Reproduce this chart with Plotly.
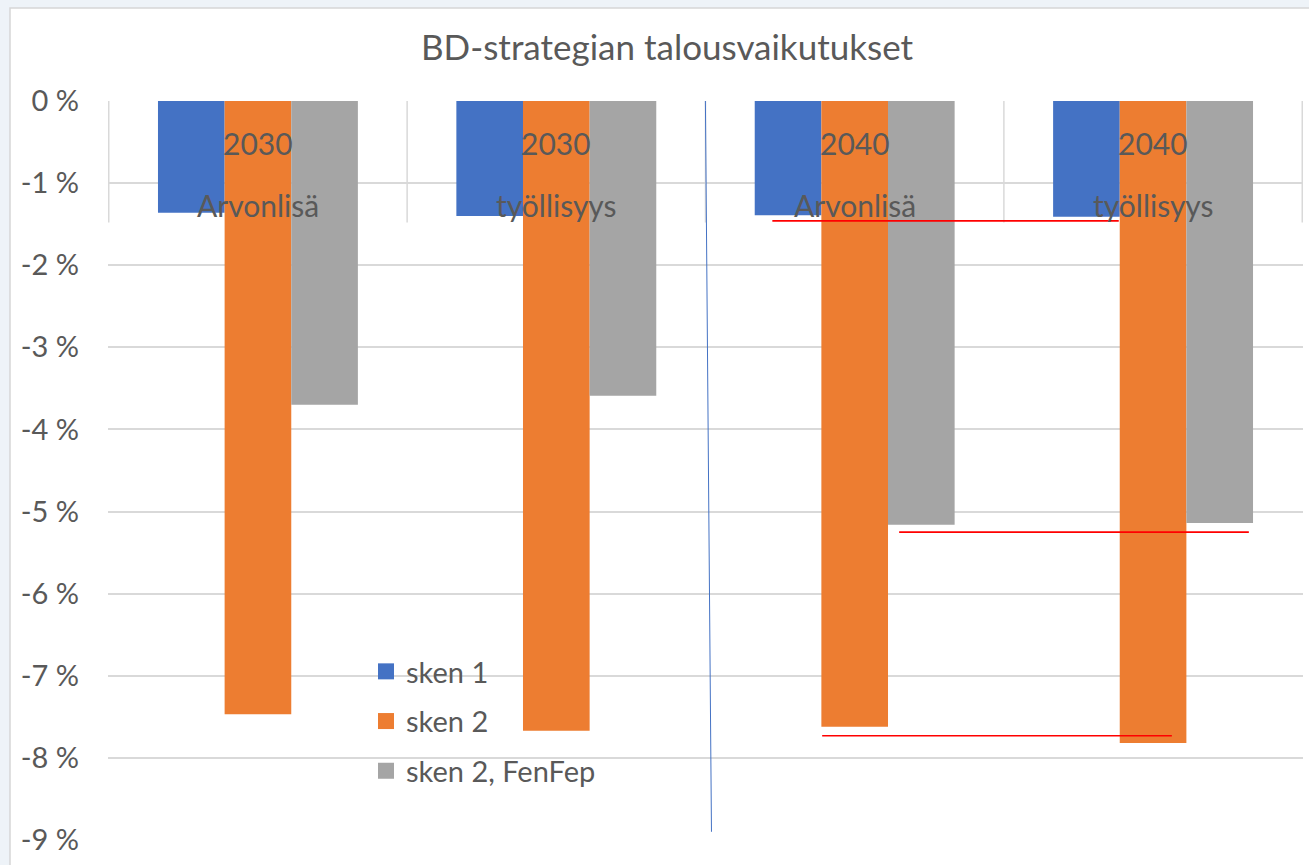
import plotly.graph_objects as go

categories = ["2030 Arvonlisä", "2030 työllisyys", "2040 Arvonlisä", "2040 työllisyys"]
cat_year = ["2030", "2030", "2040", "2040"]
cat_word = ["Arvonlisä", "työllisyys", "Arvonlisä", "työllisyys"]
series_names = ["sken 1", "sken 2", "sken 2, FenFep"]
sken1 = [-1.36, -1.40, -1.39, -1.41]
sken2 = [-7.47, -7.67, -7.62, -7.82]
sken2_fenfep = [-3.70, -3.59, -5.16, -5.14]
tick_vals = [0, -1, -2, -3, -4, -5, -6, -7, -8, -9]
tick_text = ["0 %", "-1 %", "-2 %", "-3 %", "-4 %", "-5 %", "-6 %", "-7 %", "-8 %", "-9 %"]
title_text = "BD-strategian talousvaikutukset"

colors = ["#4472C4", "#ED7D31", "#A5A5A5"]
TXT = "#595959"
FONT = "Lato"
GRID = "#D9D9D9"

W, H = 1309, 865
L, R, T, B = 108, 6, 101, 25
pw, ph = W - L - R, H - T - B

def px(x):
    return (x - L) / pw

def py(y):
    return (H - B - y) / ph

fig = go.Figure()
for i, (name, vals) in enumerate(zip(series_names, [sken1, sken2, sken2_fenfep])):
    fig.add_trace(go.Bar(x=categories, y=vals, name=name, marker_color=colors[i],
                         marker_line_width=0, showlegend=False))
# legend proxies (larger square symbols)
for i, name in enumerate(series_names):
    fig.add_trace(go.Scatter(x=[None], y=[None], mode="markers", name=name,
                             marker=dict(symbol="square", size=16, color=colors[i]),
                             legendgroup=name, showlegend=True))

shapes = []
# white chart box
shapes.append(dict(type="rect", xref="paper", yref="paper", x0=px(10), x1=px(W + 20),
                   y0=py(H + 20), y1=py(8), fillcolor="white",
                   line=dict(color="#D6D6D6", width=1.5), layer="below"))
# category separators at top
for k in range(len(categories) + 1):
    shapes.append(dict(type="line", xref="x", yref="y", x0=k - 0.5, x1=k - 0.5,
                       y0=0, y1=-1.48, line=dict(color=GRID, width=1.5), layer="below"))
# hand-drawn marks
shapes.append(dict(type="line", xref="x", yref="y", x0=1.4996, x1=1.52, y0=0.05, y1=-8.9,
                   line=dict(color="#4472C4", width=1)))
for (x0, x1, y) in [(1.724, 2.885, -1.46), (2.149, 3.321, -5.25), (1.891, 3.063, -7.73)]:
    shapes.append(dict(type="line", xref="x", yref="y", x0=x0, x1=x1, y0=y, y1=y,
                       line=dict(color="#FF0000", width=1.6)))

annotations = []
for c, yr, wd in zip(categories, cat_year, cat_word):
    annotations.append(dict(x=c, y=py(143), xref="x", yref="paper", text=yr, showarrow=False,
                            xanchor="center", yanchor="middle",
                            font=dict(family=FONT, size=30, color=TXT)))
    annotations.append(dict(x=c, y=py(205), xref="x", yref="paper", text=wd, showarrow=False,
                            xanchor="center", yanchor="middle",
                            font=dict(family=FONT, size=30, color=TXT)))

fig.update_layout(
    width=W, height=H,
    margin=dict(l=L, r=R, t=T, b=B),
    paper_bgcolor="#EEF3F8",
    plot_bgcolor="white",
    barmode="group",
    bargap=0.33,
    bargroupgap=0,
    title=dict(text=title_text, xref="container", x=667 / W, xanchor="center",
               yref="container", y=1 - 48 / H, yanchor="middle",
               font=dict(family=FONT, size=35, color=TXT)),
    font=dict(family=FONT, color=TXT),
    xaxis=dict(showticklabels=False, showgrid=False, zeroline=False, showline=False),
    yaxis=dict(range=[-9, 0], tickvals=tick_vals, ticktext=tick_text, showgrid=True,
               gridcolor=GRID, gridwidth=1.5, zeroline=False, showline=False,
               ticks="", ticklabelstandoff=28, tickfont=dict(family=FONT, size=29, color=TXT)),
    legend=dict(x=px(366), y=py(646), xanchor="left", yanchor="top",
                bgcolor="rgba(0,0,0,0)", font=dict(family=FONT, size=29, color=TXT),
                traceorder="grouped", tracegroupgap=9, itemsizing="trace"),
    shapes=shapes,
    annotations=annotations,
)

fig.write_html("out.html", config={"displayModeBar": False},
               post_script="document.body.style.margin='0';")
